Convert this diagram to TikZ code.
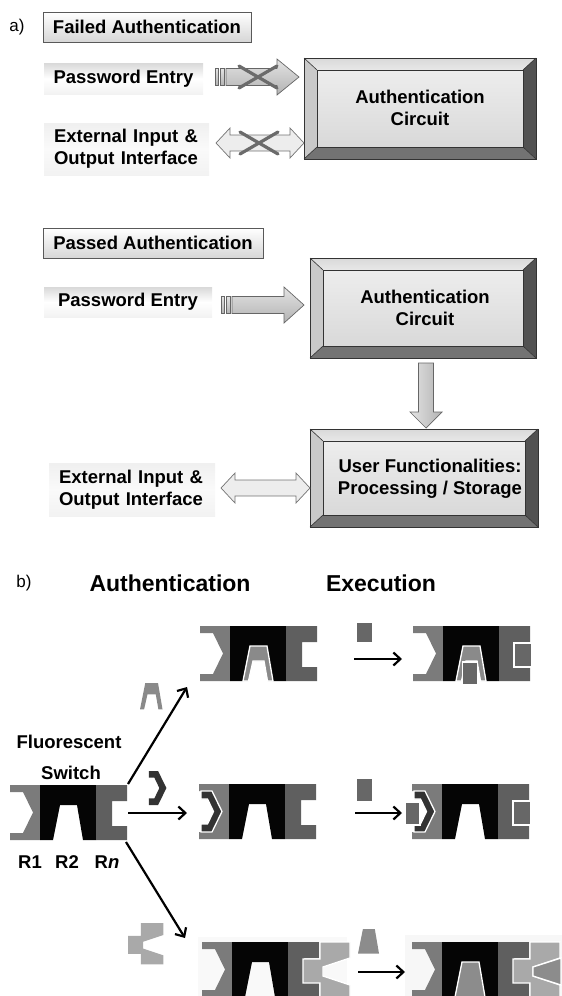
\documentclass[tikz,border=0pt]{standalone}
\usepackage{fontspec}
\setmainfont{Liberation Sans}
\usetikzlibrary{arrows.meta,calc}

\definecolor{rone}{HTML}{7B7B7B}
\definecolor{rtwo}{HTML}{050505}
\definecolor{rnc}{HTML}{5F5F5F}
\definecolor{archc}{HTML}{8A8A8A}
\definecolor{chevc}{HTML}{333333}
\definecolor{sqc}{HTML}{676767}
\definecolor{cgc}{HTML}{A9A9A9}
\definecolor{trapc}{HTML}{8C8C8C}

\tikzset{
  lbl/.style={font=\fontsize{18.5}{22}\selectfont\bfseries, inner sep=0pt, align=center},
  plain/.style={font=\fontsize{17}{20}\selectfont, inner sep=0pt},
  big/.style={font=\fontsize{23}{26}\selectfont\bfseries, inner sep=0pt},
  hdr/.style={lbl, draw=black!65, line width=0.9pt, top color=white, bottom color=gray!32},
  band/.style={lbl, top color=gray!30, bottom color=gray!10, middle color=white},
  extband/.style={lbl, top color=gray!12, bottom color=gray!10, middle color=white!96!gray,
    align=left, inner xsep=10pt, inner ysep=0pt},
  bevtop/.style={top color=gray!30, bottom color=gray!18},
  bevleft/.style={fill=gray!42},
  bevright/.style={fill=black!68},
  bevbot/.style={fill=black!55},
  face/.style={top color=gray!14, middle color=white!97!gray, bottom color=gray!30},
  edge/.style={draw=black!80, line width=0.6pt},
  arrowshade/.style={top color=gray!22, middle color=white, bottom color=gray!60,
    draw=black!60, line width=0.7pt, line join=miter},
  hollow/.style={top color=gray!14, middle color=white, bottom color=gray!14,
    draw=black!55, line width=0.7pt, line join=miter},
  crossline/.style={draw=black!58, line width=3.2pt, line cap=round},
  guest/.style={draw=white, line width=1.3pt, line join=miter},
  react/.style={draw=black, line width=2.2pt, -{Straight Barb[length=7pt,width=13pt]}},
  mol/.pic={
    \fill[rone] (0,0) -- (30,0) -- (30,55) -- (0,55) -- (0,48) -- (13,48) -- (23,27.5) -- (13,7) -- (0,7) -- cycle;
    \fill[rtwo] (30,0) -- (86,0) -- (86,55) -- (73,55) -- (67,20) -- (50,20) -- (43,55) -- (30,55) -- cycle;
    \fill[rnc] (86,0) -- (117,0) -- (117,16) -- (102,16) -- (102,41) -- (117,41) -- (117,55) -- (86,55) -- cycle;
  },
  archg/.pic={
    \filldraw[guest, fill=archc] (43,55) -- (50,20) -- (67,20) -- (73,55) -- (67.5,55) -- (64,35) -- (53,35) -- (48.5,55) -- cycle;
  },
  chevg/.pic={
    \filldraw[guest, fill=chevc] (2,7) -- (13,7) -- (23,27.5) -- (13,48) -- (2,48) -- (2,40) -- (8.5,40) -- (14.5,27.5) -- (8.5,15) -- (2,15) -- cycle;
  },
  cguest/.pic={
    \filldraw[guest, fill=cgc] (101,17) -- (118,17) -- (118,0) -- (148,0) -- (148,16) -- (121,25) -- (121,34) -- (148,43) -- (148,55) -- (118,55) -- (118,41) -- (101,41) -- cycle;
  },
  rnsquare/.pic={
    \filldraw[guest, fill=sqc] (101,17) rectangle (119,41);
  },
}

% bevelled push-button frame: x1, y1, x2, y2
\newcommand\bevelframe[4]{%
  \shade[bevtop] (#1,#2) -- (#3,#2) -- ({#3-13},{#2+12}) -- ({#1+13},{#2+12}) -- cycle;
  \fill[bevleft] (#1,#2) -- ({#1+13},{#2+12}) -- ({#1+13},{#4-12}) -- (#1,#4) -- cycle;
  \fill[bevright] (#3,#2) -- (#3,#4) -- ({#3-13},{#4-12}) -- ({#3-13},{#2+12}) -- cycle;
  \fill[bevbot] (#1,#4) -- (#3,#4) -- ({#3-13},{#4-12}) -- ({#1+13},{#4-12}) -- cycle;
  \shade[face] ({#1+13},{#2+12}) rectangle ({#3-13},{#4-12});
  \draw[edge] (#1,#2) rectangle (#3,#4);
  \draw[edge] ({#1+13},{#2+12}) rectangle ({#3-13},{#4-12});
  \draw[edge] (#1,#2) -- ({#1+13},{#2+12}) (#3,#2) -- ({#3-13},{#2+12})
              (#1,#4) -- ({#1+13},{#4-12}) (#3,#4) -- ({#3-13},{#4-12});
}
% striped block arrow: shaft start, head base, tip, centre line
\newcommand\blockarrow[4]{%
  \shadedraw[arrowshade] ({#1-11},{#4-8.5}) rectangle ({#1-8},{#4+8.5});
  \shadedraw[arrowshade] ({#1-6},{#4-8.5}) rectangle ({#1-2},{#4+8.5});
  \shadedraw[arrowshade] (#1,{#4-8.5}) -- (#2,{#4-8.5}) -- (#2,{#4-18}) -- (#3,#4)
     -- (#2,{#4+18}) -- (#2,{#4+8.5}) -- (#1,{#4+8.5}) -- cycle;
}
% hollow two-headed arrow: left tip, right tip, centre line
\newcommand\dblarrow[3]{%
  \shadedraw[hollow] (#1,#3) -- ({#1+14},{#3-15}) -- ({#1+14},{#3-8}) -- ({#2-14},{#3-8})
     -- ({#2-14},{#3-15}) -- (#2,#3) -- ({#2-14},{#3+15}) -- ({#2-14},{#3+8})
     -- ({#1+14},{#3+8}) -- ({#1+14},{#3+15}) -- cycle;
}
% blocking cross
\newcommand\crossmark[2]{%
  \draw[crossline] ({#1-19},{#2-11}) -- ({#1+19},{#2+11});
  \draw[crossline] ({#1-19},{#2+11}) -- ({#1+19},{#2-11});
}

\begin{document}
\begin{tikzpicture}[x=1pt,y=-1pt]
\useasboundingbox (0,0) rectangle (562,996);

% ---------------- a) failed authentication ----------------
\node[plain] (alab) at (17,27) {a)};
\node[hdr, minimum width=208pt, minimum height=30pt] (failhdr) at (147,27) {Failed Authentication};
\node[band, minimum width=159pt, minimum height=31pt] (pw1) at (123.5,78.5) {Password Entry};
\node[extband, minimum width=165pt, minimum height=52pt, text width=145pt] (ext1) at (126.5,149) {External Input \&\\Output Interface};

\bevelframe{304}{58}{536}{159}
\node[lbl] (auth1) at (420,108) {Authentication\\Circuit};

\blockarrow{226}{277}{299}{77}
\crossmark{258}{77}
\dblarrow{216}{304}{143}
\crossmark{259}{143}

% ---------------- passed authentication ----------------
\node[hdr, minimum width=220pt, minimum height=30pt] (passhdr) at (153,243) {Passed Authentication};
\node[band, minimum width=168pt, minimum height=30pt] (pw2) at (128,302) {Password Entry};
\node[extband, minimum width=166pt, minimum height=53pt, text width=146pt] (ext2) at (132,489.5) {External Input \&\\Output Interface};

\bevelframe{310}{258}{536}{358}
\node[lbl] (auth2) at (425,308) {Authentication\\Circuit};
\bevelframe{310}{429}{538}{527}
\node[lbl] (user) at (430,479) {User Functionalities:\\Processing / Storage};

\blockarrow{232}{284}{304}{305}
\shadedraw[arrowshade, left color=gray!22, middle color=white, right color=gray!60]
  (418.5,363) -- (433.5,363) -- (433.5,412) -- (442,412) -- (426,428) -- (410,412) -- (418.5,412) -- cycle;
\dblarrow{221}{310}{488}

% ---------------- b) molecular keypad ----------------
\node[plain] (blab) at (24,583) {b)};
\node[big] (hauth) at (170,583) {Authentication};
\node[big] (hexec) at (381,583) {Execution};

\fill[gray!5] (198,937) rectangle (347,996);
\fill[gray!6] (405,935) rectangle (562,996);

% free switch
\pic at (10,785) {mol};
\node[lbl] (fl1) at (69,742) {Fluorescent};
\node[lbl] (fl2) at (71,773) {Switch};
\node[lbl] (r1) at (30,862) {R1};
\node[lbl] (r2) at (67,862) {R2};
\node[lbl] (rn) at (107,862) {R{\itshape n}};

% row 1: arch guest, then square
\begin{scope}[shift={(107.75,668)}, scale=0.75]
  \fill[archc] (43,55) -- (50,20) -- (67,20) -- (73,55) -- (67.5,55) -- (64,35) -- (53,35) -- (48.5,55) -- cycle;
\end{scope}
\pic at (200,626) {mol};
\pic at (200,626) {archg};
\fill[sqc] (357,623) rectangle (372,642);
\pic at (413,626) {mol};
\pic at (413,626) {archg};
\filldraw[guest, fill=sqc] (462.5,662) rectangle (477.5,685);
\pic at (413,626) {rnsquare};

% row 2: chevron guest, then square
\begin{scope}[shift={(147.3,765.2)}, scale=0.83]
  \fill[chevc] (2,7) -- (13,7) -- (23,27.5) -- (13,48) -- (2,48) -- (2,40) -- (8.5,40) -- (14.5,27.5) -- (8.5,15) -- (2,15) -- cycle;
\end{scope}
\pic at (199,784) {mol};
\pic at (199,784) {chevg};
\fill[sqc] (357,779) rectangle (372,801);
\pic at (412,784) {mol};
\pic at (412,784) {chevg};
\filldraw[guest, fill=sqc] (405,802) rectangle (420,825);
\pic at (412,784) {rnsquare};

% row 3: stepped guest, then trapezoid
\begin{scope}[shift={(52.25,923)}, scale=0.75]
  \fill[cgc] (101,17) -- (118,17) -- (118,0) -- (148,0) -- (148,16) -- (121,25) -- (121,34) -- (148,43) -- (148,55) -- (118,55) -- (118,41) -- (101,41) -- cycle;
\end{scope}
\pic at (202,942) {mol};
\pic at (202,942) {cguest};
\begin{scope}[shift={(327.9,915)}, scale=0.7]
  \fill[trapc] (43,55) -- (50,20) -- (67,20) -- (73,55) -- cycle;
\end{scope}
\pic at (412,942) {mol};
\pic at (412,942) {cguest};
\begin{scope}[shift={(412,942)}]
  \filldraw[guest, fill=trapc] (43,55) -- (50,20) -- (67,20) -- (73,55) -- cycle;
  \filldraw[guest, fill=trapc] (149,16) -- (121,25) -- (121,34) -- (149,43) -- cycle;
\end{scope}

% reaction arrows
\coordinate (s1) at (128,784);  \coordinate (e1) at (187,687);
\coordinate (s2) at (128,813);  \coordinate (e2) at (187,813);
\coordinate (s3) at (126,842);  \coordinate (e3) at (185,938);
\coordinate (x1s) at (354,659); \coordinate (x1e) at (402,659);
\coordinate (x2s) at (355,813); \coordinate (x2e) at (402,813);
\coordinate (x3s) at (358,972); \coordinate (x3e) at (405,972);
\draw[react] (s1) -- (e1);
\draw[react] (s2) -- (e2);
\draw[react] (s3) -- (e3);
\draw[react] (x1s) -- (x1e);
\draw[react] (x2s) -- (x2e);
\draw[react] (x3s) -- (x3e);
\end{tikzpicture}
\end{document}
